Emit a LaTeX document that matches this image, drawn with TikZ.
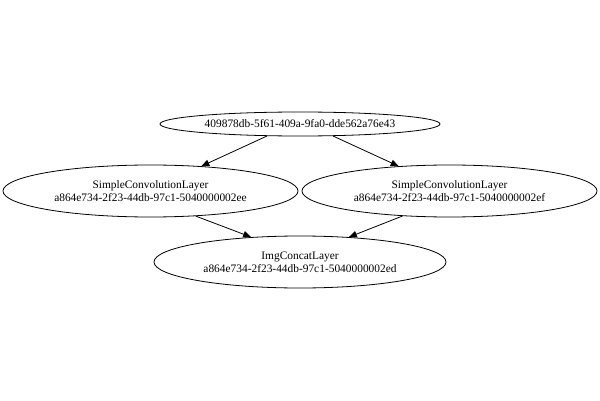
\documentclass[tikz,border=0pt]{standalone}
\usepackage{fontspec}
\setmainfont{Liberation Serif}
\usetikzlibrary{shapes.geometric,arrows.meta}
\begin{document}
\begin{tikzpicture}[x=1pt,y=1pt,
  nodebox/.style={draw=black, line width=0.8pt, ellipse, inner sep=0pt, align=center,
    font=\fontsize{11.4}{12.8}\selectfont},
  edge/.style={draw=black, line width=0.8pt, -{Triangle[length=8pt,width=6.5pt]}}]
\useasboundingbox (0,0) rectangle (600,400);
\node[nodebox, minimum width=280pt, minimum height=24pt] (top) at (300,276)
  {409878db-5f61-409a-9fa0-dde562a76e43};
\node[nodebox, minimum width=295pt, minimum height=52pt] (left) at (150.5,209)
  {SimpleConvolutionLayer\\a864e734-2f23-44db-97c1-5040000002ee};
\node[nodebox, minimum width=295pt, minimum height=52pt] (right) at (449.5,209)
  {SimpleConvolutionLayer\\a864e734-2f23-44db-97c1-5040000002ef};
\node[nodebox, minimum width=292pt, minimum height=52pt] (bottom) at (300,138)
  {ImgConcatLayer\\a864e734-2f23-44db-97c1-5040000002ed};
\draw[edge] (top.200) -- (left.26);
\draw[edge] (top.340) -- (right.154);
\draw[edge] (left.331.5) -- (bottom.153);
\draw[edge] (right.208.5) -- (bottom.27);
\end{tikzpicture}
\end{document}
